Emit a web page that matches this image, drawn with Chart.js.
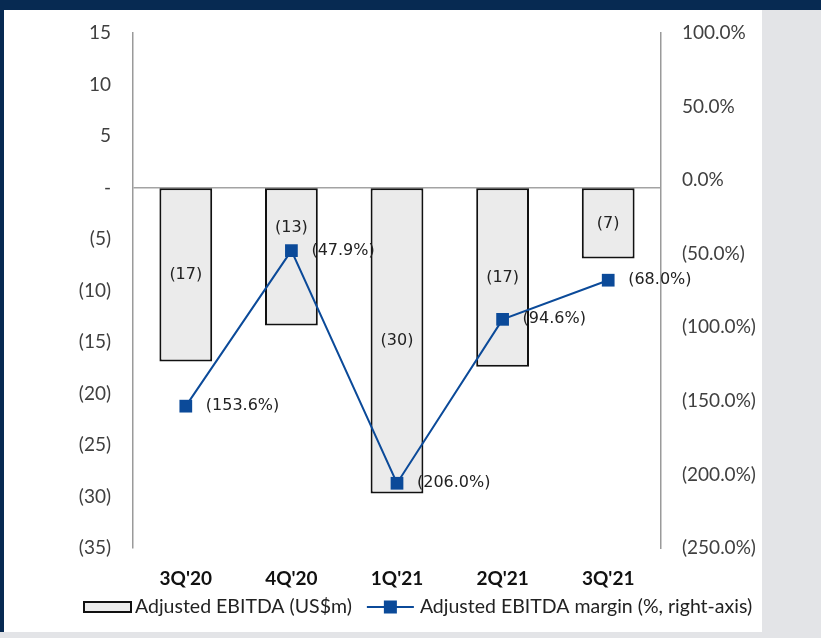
<!DOCTYPE html>
<html>
<head>
<meta charset="utf-8">
<script src="https://cdn.jsdelivr.net/npm/chart.js@4.4.1/dist/chart.umd.min.js"></script>
<style>
  html, body { margin: 0; padding: 0; }
  body { width: 821px; height: 638px; background: #e3e4e7; position: relative; overflow: hidden; }
  #franja { position: absolute; left: 0; top: 0; width: 821px; height: 10px; background: #072a52; }
  #borde { position: absolute; left: 0; top: 0; width: 4px; height: 632px; background: #072a52; }
  #panel { position: absolute; left: 4px; top: 10px; width: 758px; height: 622px; background: #fff; }
  canvas { display: block; }
</style>
</head>
<body>
<div id="franja"></div>
<div id="borde"></div>
<div id="panel"><canvas id="grafico" width="758" height="622"></canvas></div>
<script>
// datos por trimestre
const trimestres = ["3Q'20", "4Q'20", "1Q'21", "2Q'21", "3Q'21"];
const ebitda = [-16.9, -13.4, -29.7, -17.4, -6.9];          // US$m
const margen = [-153.6, -47.9, -206.0, -94.6, -68.0];       // %
const ticksEbitda = [15, 10, 5, 0, -5, -10, -15, -20, -25, -30, -35];
const ticksMargen = [100, 50, 0, -50, -100, -150, -200, -250];
const nombreBarras = 'Adjusted EBITDA (US$m)';
const nombreLinea = 'Adjusted EBITDA margin (%, right-axis)';

const azul = '#0b4a99';
const grisBarra = '#ebebeb';

// formatos estilo excel: negativos entre parentesis, cero como guion
const fmtNum = v => v === 0 ? '-' : (v < 0 ? '(' + Math.abs(v) + ')' : String(v));
const fmtBarra = v => v < 0 ? '(' + Math.round(Math.abs(v)) + ')' : String(Math.round(v));
const fmtPct = v => v < 0 ? '(' + Math.abs(v).toFixed(1) + '%)' : v.toFixed(1) + '%';

// ancho fijo del eje y sin el margen extra arriba/abajo que mete el padding de ticks
const fijarEje = ancho => s => {
  s.width = ancho;
  s.paddingTop = 11;
  s.paddingBottom = 11;
};

// etiquetas de valor encima de barras y puntos
const etiquetas = {
  id: 'etiquetas',
  afterDatasetsDraw(chart) {
    const ctx = chart.ctx;
    const puntos = chart.getDatasetMeta(1).data;
    ctx.save();
    ctx.font = '16px "DejaVu Sans"';
    ctx.fillStyle = '#222';
    ctx.textBaseline = 'middle';
    ctx.textAlign = 'center';
    chart.getDatasetMeta(0).data.forEach((barra, i) => {
      let y = (barra.y + barra.base) / 2;
      // si choca con el punto de la linea se sube encima
      if (Math.abs(y - puntos[i].y) < 20) y = puntos[i].y - 23;
      ctx.fillText(fmtBarra(ebitda[i]), barra.x, y);
    });
    ctx.textAlign = 'left';
    puntos.forEach((p, i) => {
      ctx.fillText(fmtPct(margen[i]), p.x + 20, p.y);
    });
    ctx.restore();
  }
};

// leyenda abajo, dibujada a mano para poner el cuadrado sobre la linea
const leyenda = {
  id: 'leyenda',
  afterDraw(chart) {
    const ctx = chart.ctx;
    const y = 597;
    let x = chart.chartArea.left - 49;
    ctx.save();
    ctx.font = '19.5px Lato';
    ctx.textBaseline = 'middle';
    ctx.textAlign = 'left';

    ctx.fillStyle = grisBarra;
    ctx.fillRect(x, y - 5, 47, 10);
    ctx.strokeStyle = '#111';
    ctx.lineWidth = 2;
    ctx.strokeRect(x, y - 5, 47, 10);
    x += 51;
    ctx.fillStyle = '#222';
    ctx.fillText(nombreBarras, x, y);
    x += ctx.measureText(nombreBarras).width + 15;

    ctx.strokeStyle = azul;
    ctx.lineWidth = 2;
    ctx.beginPath();
    ctx.moveTo(x, y);
    ctx.lineTo(x + 47, y);
    ctx.stroke();
    ctx.fillStyle = azul;
    ctx.fillRect(x + 23.5 - 6.5, y - 6.5, 13, 13);
    x += 53;
    ctx.fillStyle = '#222';
    ctx.fillText(nombreLinea, x, y);
    ctx.restore();
  }
};

let grafico = new Chart(document.getElementById('grafico'), {
  data: {
    labels: trimestres,
    datasets: [
      {
        type: 'bar',
        label: nombreBarras,
        data: ebitda,
        yAxisID: 'y',
        backgroundColor: grisBarra,
        borderColor: '#111',
        borderWidth: 2,
        borderSkipped: false,
        barPercentage: 0.5,
        categoryPercentage: 1.0,
        order: 2
      },
      {
        type: 'line',
        label: nombreLinea,
        data: margen,
        yAxisID: 'y1',
        borderColor: azul,
        borderWidth: 2,
        backgroundColor: azul,
        pointStyle: 'rect',
        pointRadius: 9,
        pointBorderWidth: 0,
        pointBackgroundColor: azul,
        tension: 0,
        order: 1
      }
    ]
  },
  options: {
    responsive: false,
    animation: false,
    layout: { padding: { left: 0, right: 0, top: 23, bottom: 34 } },
    plugins: {
      legend: { display: false },
      tooltip: { enabled: false }
    },
    scales: {
      x: {
        grid: { display: false },
        border: { display: false },
        ticks: { padding: 11, color: '#111', font: { family: 'Lato', size: 19, weight: 'bold' } },
        afterFit: s => { s.height = 50; }
      },
      y: {
        position: 'left',
        min: -35,
        max: 15,
        afterBuildTicks: s => { s.ticks = ticksEbitda.map(v => ({ value: v })); },
        grid: {
          drawTicks: false,
          lineWidth: 1.5,
          color: c => c.tick && c.tick.value === 0 ? '#a3a3a3' : 'rgba(0,0,0,0)'
        },
        border: { display: true, color: '#9a9a9a', width: 1.5 },
        ticks: { padding: 22, color: '#404040', font: { family: 'Lato', size: 19 }, callback: v => fmtNum(v) },
        afterFit: fijarEje(129)
      },
      y1: {
        position: 'right',
        min: -250,
        max: 100,
        afterBuildTicks: s => { s.ticks = ticksMargen.map(v => ({ value: v })); },
        grid: { display: false, drawTicks: false },
        border: { display: true, color: '#9a9a9a', width: 1.5 },
        ticks: { padding: 21, color: '#404040', font: { family: 'Lato', size: 19 }, callback: v => fmtPct(v) },
        afterFit: fijarEje(101)
      }
    }
  },
  plugins: [etiquetas, leyenda]
});
</script>
</body>
</html>
